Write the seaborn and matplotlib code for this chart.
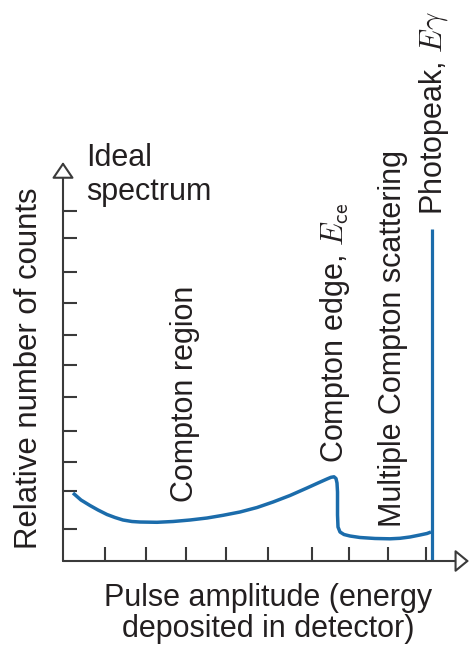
import matplotlib
matplotlib.use("Agg")
import matplotlib.pyplot as plt
import numpy as np
import pandas as pd
import seaborn as sns

# Idealised gamma-ray pulse-height spectrum (arbitrary units)
compton_x = [0.25, 0.45, 0.675, 0.875, 1.1, 1.3, 1.5, 1.725, 1.925, 2.35,
             2.75, 3.175, 3.6, 4.0, 4.425, 4.85, 5.25, 5.675, 6.1, 6.375,
             6.6, 6.7, 6.775, 6.825, 6.85, 6.863, 6.863, 6.875, 6.925, 7.025,
             7.175, 7.425, 7.8, 8.175, 8.425, 8.675, 8.925, 9.1, 9.2]
compton_y = [2.138, 1.918, 1.745, 1.604, 1.462, 1.368, 1.289, 1.242, 1.226, 1.217,
             1.242, 1.289, 1.352, 1.437, 1.541, 1.682, 1.855, 2.060, 2.296, 2.453,
             2.579, 2.632, 2.648, 2.594, 2.453, 2.170, 1.447, 1.069, 0.912, 0.833,
             0.786, 0.739, 0.708, 0.698, 0.714, 0.755, 0.818, 0.865, 0.912]
photopeak_x = [9.225, 9.225]
photopeak_y = [0.0, 10.44]

x_ticks = [1.05, 2.075, 3.075, 4.075, 5.125, 6.225, 7.15, 8.125, 9.075]
y_ticks = [1.0, 2.2, 3.1, 4.1, 5.15, 6.15, 7.1, 8.1, 9.1, 10.15, 11.0]

sns.set_theme(style="white")
plt.rcParams["font.family"] = ["Liberation Sans", "DejaVu Sans"]
plt.rcParams["mathtext.fontset"] = "cm"

W, H = 470, 651
fig = plt.figure(figsize=(W / 100, H / 100), dpi=100)

# axes box in pixel terms: origin at (63, 561), arrow tips at x=469 and y=162
left, right, bottom_px, top_px = 63, 469, 561, 162
ax = fig.add_axes([left / W, (H - bottom_px) / H,
                   (right - left) / W, (bottom_px - top_px) / H])
ax.set_xlim(0, (right - left) / 40)
ax.set_ylim(0, (bottom_px - top_px) / 31.8)

line_col = "#1b6cab"
axis_col = "#3a3a3a"
text_col = "#231f20"

spectrum = pd.DataFrame({"amplitude": compton_x, "counts": compton_y})
peak = pd.DataFrame({"amplitude": photopeak_x, "counts": photopeak_y})
sns.lineplot(data=spectrum, x="amplitude", y="counts", ax=ax, sort=False,
             estimator=None, color=line_col, lw=2.5,
             solid_capstyle="butt", solid_joinstyle="round")
sns.lineplot(data=peak, x="amplitude", y="counts", ax=ax, sort=False,
             estimator=None, color=line_col, lw=2.3, solid_capstyle="butt")

for s in ax.spines.values():
    s.set_visible(False)
ax.set_xlabel("")
ax.set_ylabel("")
ax.set_xticks(x_ticks)
ax.set_yticks(y_ticks)
ax.tick_params(direction="in", length=10, width=1.5, color=axis_col,
               labelbottom=False, labelleft=False, bottom=True, left=True)

# axis lines with open arrowheads
ax.annotate("", xy=(0, 1), xytext=(0, 0), xycoords="axes fraction",
            arrowprops=dict(arrowstyle="-|>,head_length=10,head_width=6.8",
                            mutation_scale=1, lw=1.5, ec=axis_col, fc="white",
                            shrinkA=0, shrinkB=0), annotation_clip=False)
ax.annotate("", xy=(1, 0), xytext=(0, 0), xycoords="axes fraction",
            arrowprops=dict(arrowstyle="-|>,head_length=8.5,head_width=7.0",
                            mutation_scale=1, lw=1.5, ec=axis_col, fc="white",
                            shrinkA=0, shrinkB=0), annotation_clip=False)

fs = 22


def ptxt(x, y, s, **kw):
    fig.text(x / W, 1 - y / H, s, fontsize=fs, color=text_col, **kw)


def vtxt(x, y, s, size=fs):
    fig.text(x / W, 1 - y / H, s, fontsize=size, color=text_col, rotation=90,
             rotation_mode="anchor", ha="left", va="baseline")


ptxt(86, 166, "Ideal", ha="left", va="baseline")
ptxt(86, 200, "spectrum", ha="left", va="baseline")
ptxt(268, 606, "Pulse amplitude (energy", ha="center", va="baseline")
ptxt(268, 637, "deposited in detector)", ha="center", va="baseline")

vtxt(37, 549, "Relative number of counts", size=22.4)
vtxt(193, 502, "Compton region")
vtxt(343, 463, r"Compton edge, $E_{\mathsf{ce}}$")
vtxt(401, 527, "Multiple Compton scattering")
vtxt(442, 215, r"Photopeak, $E\gamma$")

fig.savefig("out.png", dpi=100)
